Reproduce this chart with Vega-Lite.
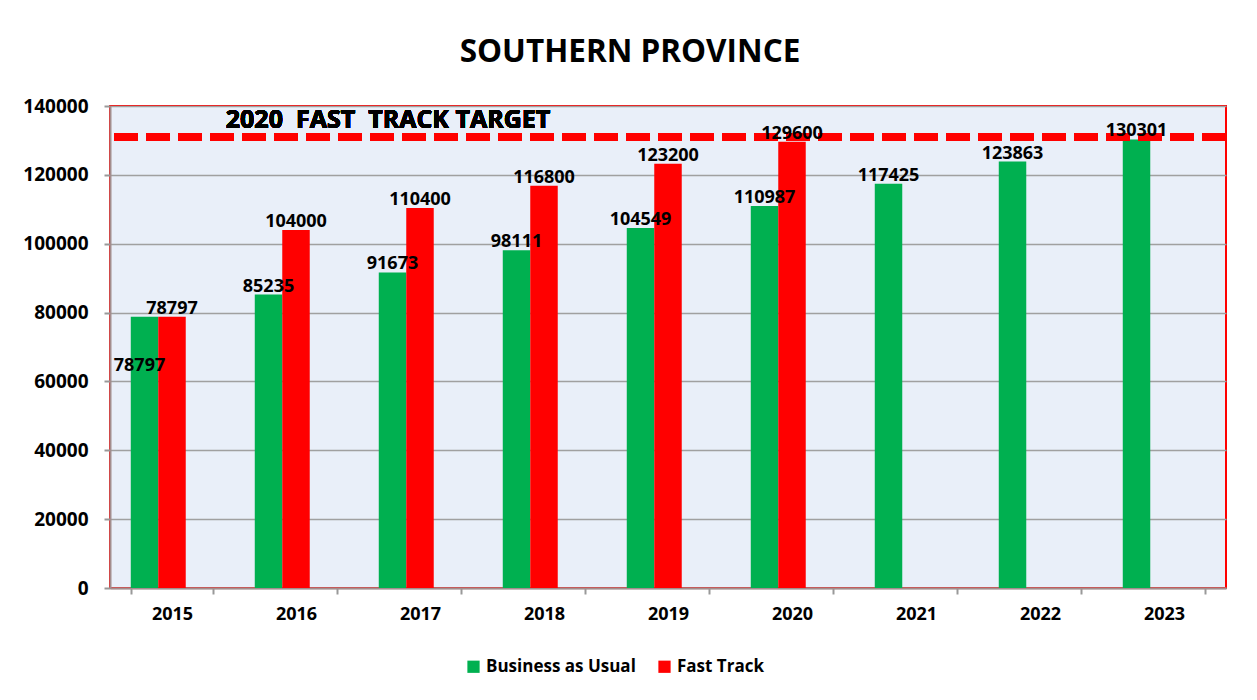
{
  "$schema": "https://vega.github.io/schema/vega-lite/v6.json",
  "width": 1116,
  "height": 482,
  "autosize": "none",
  "padding": {"left": 110, "top": 106, "right": 31, "bottom": 112},
  "background": "white",
  "title": {"text": "SOUTHERN PROVINCE", "font": "Open Sans", "fontSize": 31.5, "fontWeight": "bold", "color": "black", "anchor": "middle", "frame": "group", "dx": -38, "offset": 4, "baseline": "alphabetic"},
  "config": {
    "view": {"stroke": "#ff0000", "strokeWidth": 2, "fill": "#e9eff9"},
    "axis": {"labelFont": "Open Sans", "labelFontSize": 18, "labelFontWeight": "bold", "labelColor": "black", "domainColor": "#a38d8d", "domainWidth": 2, "tickColor": "#999999", "tickWidth": 2}
  },
  "data": {"values": [
    {"year": "2015", "series": "Business as Usual", "value": 78797},
    {"year": "2015", "series": "Fast Track", "value": 78797},
    {"year": "2016", "series": "Business as Usual", "value": 85235},
    {"year": "2016", "series": "Fast Track", "value": 104000},
    {"year": "2017", "series": "Business as Usual", "value": 91673},
    {"year": "2017", "series": "Fast Track", "value": 110400},
    {"year": "2018", "series": "Business as Usual", "value": 98111},
    {"year": "2018", "series": "Fast Track", "value": 116800},
    {"year": "2019", "series": "Business as Usual", "value": 104549},
    {"year": "2019", "series": "Fast Track", "value": 123200},
    {"year": "2020", "series": "Business as Usual", "value": 110987},
    {"year": "2020", "series": "Fast Track", "value": 129600},
    {"year": "2021", "series": "Business as Usual", "value": 117425},
    {"year": "2022", "series": "Business as Usual", "value": 123863},
    {"year": "2023", "series": "Business as Usual", "value": 130301}
  ]},
  "layer": [
    {
      "mark": {"type": "bar"},
      "encoding": {
        "x": {"field": "year", "type": "nominal", "scale": {"paddingInner": 0.335, "paddingOuter": 0.1675},
          "axis": {"title": null, "labelAngle": 0, "tickBand": "extent", "tickSize": 6, "labelPadding": 11, "grid": false}},
        "xOffset": {"field": "series", "scale": {"domain": ["Business as Usual", "Fast Track", "spacer"], "paddingInner": 0, "paddingOuter": 0}},
        "y": {"field": "value", "type": "quantitative", "scale": {"domain": [0, 140000], "nice": false},
          "axis": {"title": null, "values": [0, 20000, 40000, 60000, 80000, 100000, 120000, 140000], "format": "d", "grid": true, "gridColor": "#a0a0a0", "gridWidth": 1.5, "tickSize": 6, "labelPadding": 16, "labelFontSize": 19}},
        "color": {"field": "series", "type": "nominal", "scale": {"domain": ["Business as Usual", "Fast Track"], "range": ["#00b050", "#ff0000"]},
          "legend": {"orient": "none", "legendX": 355, "legendY": 552, "direction": "horizontal", "title": null, "symbolType": "square", "symbolSize": 150, "symbolStrokeWidth": 0, "labelFont": "Open Sans", "labelFontSize": 17, "labelFontWeight": "bold", "labelColor": "black", "columnPadding": 20, "labelOffset": 4}}
      }
    },
    {
      "mark": {"type": "rule", "color": "#ff0000", "strokeWidth": 8, "strokeDash": [24, 8]},
      "encoding": {"y": {"datum": 131000}}
    },
    {
      "transform": [{"filter": "!(datum.year == '2015' && datum.series == 'Business as Usual')"}],
      "mark": {"type": "text", "font": "Open Sans", "fontSize": 18, "fontWeight": "bold", "color": "black", "baseline": "bottom", "dy": 1},
      "encoding": {
        "x": {"field": "year", "type": "nominal"},
        "xOffset": {"field": "series"},
        "y": {"field": "value", "type": "quantitative"},
        "text": {"field": "value", "type": "quantitative", "format": "d"}
      }
    },
    {
      "transform": [{"filter": "datum.year == '2015' && datum.series == 'Business as Usual'"}],
      "mark": {"type": "text", "font": "Open Sans", "fontSize": 18, "fontWeight": "bold", "color": "black", "baseline": "middle", "dy": 49, "dx": -5},
      "encoding": {
        "x": {"field": "year", "type": "nominal"},
        "xOffset": {"field": "series"},
        "y": {"field": "value", "type": "quantitative"},
        "text": {"field": "value", "type": "quantitative", "format": "d"}
      }
    },
    {
      "mark": {"type": "text", "text": "2020\u00a0 FAST\u00a0 TRACK TARGET", "font": "Open Sans", "fontSize": 25, "fontWeight": "bold", "color": "black", "baseline": "alphabetic", "align": "center", "dx": -32, "dy": -9},
      "encoding": {"x": {"datum": "2017"}, "y": {"datum": 131000}}
    }
  ]
}
